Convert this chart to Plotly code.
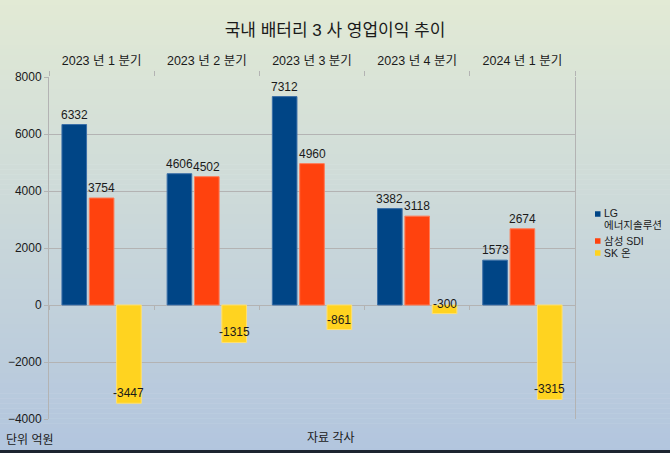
import plotly.graph_objects as go

categories = ["2023 년 1 분기", "2023 년 2 분기", "2023 년 3 분기", "2023 년 4 분기", "2024 년 1 분기"]
series_names = ["LG<br>에너지솔루션", "삼성 SDI", "SK 온"]
lg_values = [6332, 4606, 7312, 3382, 1573]
samsung_values = [3754, 4502, 4960, 3118, 2674]
sk_values = [-3447, -1315, -861, -300, -3315]
y_ticks = [-4000, -2000, 0, 2000, 4000, 6000, 8000]

colors = ["#004586", "#ff420e", "#ffd320"]
edge_colors = ["#3a6fa8", "#ff7a55", "#ffe070"]
series_values = [lg_values, samsung_values, sk_values]

W, H = 670, 453
L, R, T, B = 49, 95, 77, 34
pw, ph = W - L - R, H - T - B

FONT = "Liberation Sans, Arial, Noto Sans CJK KR, sans-serif"


def px_x(x):
    return (x - L) / pw


def px_y(y):
    return (T + ph - y) / ph


fig = go.Figure()
idx = list(range(len(categories)))
for name, vals, c, ec in zip(series_names, series_values, colors, edge_colors):
    fig.add_trace(go.Bar(x=idx, y=vals, name=name.replace("<br>", " "), showlegend=False,
                         marker=dict(color=c, line=dict(color=ec, width=1))))

# dummy traces to keep helper axes alive
fig.add_trace(go.Scatter(x=[], y=[], xaxis="x2", showlegend=False, hoverinfo="skip"))
fig.add_trace(go.Scatter(x=[], y=[], xaxis="x3", showlegend=False, hoverinfo="skip"))

bargap, groupgap = 0.22, 0.1
slot = (1 - bargap) / 3
offsets = [-slot, 0, slot]
annotations = []
for vals, off in zip(series_values, offsets):
    for i, v in enumerate(vals):
        annotations.append(dict(x=i + off, y=v, xref="x", yref="y", text=str(v), showarrow=False,
                                yanchor="bottom", yshift=1, font=dict(size=12, color="#1a1a1a", family=FONT)))

annotations.append(dict(x=px_x(4), y=px_y(440), xref="paper", yref="paper", text="단위 억원",
                        showarrow=False, xanchor="left", yanchor="middle",
                        font=dict(size=12, color="#1a1a1a", family=FONT)))
annotations.append(dict(x=px_x(331), y=px_y(438), xref="paper", yref="paper", text="자료 각사",
                        showarrow=False, xanchor="center", yanchor="middle",
                        font=dict(size=12, color="#1a1a1a", family=FONT)))

# background gradient strips
shapes = []
top = (226, 234, 213)
bot = (178, 197, 222)
n = 91
for k in range(n):
    y0px = H * k / n
    y1px = H * (k + 1) / n + 0.6
    t = (k + 0.5) / n
    col = tuple(round(top[j] + (bot[j] - top[j]) * t) for j in range(3))
    shapes.append(dict(type="rect", xref="paper", yref="paper", layer="below",
                       x0=px_x(0), x1=px_x(W), y0=px_y(y1px), y1=px_y(y0px),
                       fillcolor="rgb(%d,%d,%d)" % col, line=dict(width=0)))
# dark bottom edge
shapes.append(dict(type="rect", xref="paper", yref="paper", layer="above",
                   x0=px_x(0), x1=px_x(W), y0=px_y(H), y1=px_y(H - 3),
                   fillcolor="#1c2430", line=dict(width=0)))

# legend (keys + labels)
legend_rows = [(214, [(213, "LG"), (225, "에너지솔루션")]),
               (241, [(241, "삼성 SDI")]),
               (253, [(253, "SK 온")])]
for (ky, lines), c in zip(legend_rows, colors):
    shapes.append(dict(type="rect", xref="paper", yref="paper", layer="above",
                       x0=px_x(595), x1=px_x(600.5), y0=px_y(ky + 2.75), y1=px_y(ky - 2.75),
                       fillcolor=c, line=dict(width=0)))
for (ky, lines) in legend_rows:
    for ly, txt in lines:
        annotations.append(dict(x=px_x(602), y=px_y(ly), xref="paper", yref="paper", text=txt,
                                showarrow=False, xanchor="left", yanchor="middle",
                                font=dict(size=10.5, color="#1a1a1a", family=FONT)))

grid = "#b3b3b3"
boundaries = [i - 0.5 for i in range(len(categories) + 1)]
xr = [-0.5, len(categories) - 0.5]

fig.update_layout(
    width=W, height=H,
    margin=dict(l=L, r=R, t=T, b=B, autoexpand=False),
    paper_bgcolor="rgba(0,0,0,0)", plot_bgcolor="rgba(0,0,0,0)",
    barmode="group", bargap=bargap, bargroupgap=groupgap,
    showlegend=False,
    title=dict(text="국내 배터리 3 사 영업이익 추이", x=0.5, xanchor="center", y=1 - 30 / H, yanchor="middle",
               font=dict(size=17, color="#1a1a1a", family=FONT)),
    font=dict(family=FONT, size=12, color="#1a1a1a"),
    xaxis=dict(range=xr, side="top", tickvals=idx, ticktext=categories, ticks="", showgrid=False,
               showline=False, zeroline=False, ticklabelstandoff=9, automargin=False,
               tickfont=dict(size=12.5, color="#1a1a1a")),
    xaxis2=dict(range=xr, overlaying="x", side="top", anchor="y", tickvals=boundaries, ticks="outside",
                ticklen=5, tickcolor=grid, showticklabels=False, showgrid=False, zeroline=False,
                showline=False, automargin=False),
    xaxis3=dict(range=xr, overlaying="x", side="bottom", anchor="free", position=1 / 3, tickvals=boundaries,
                ticks="outside", ticklen=4, tickcolor=grid, showticklabels=False, showgrid=False,
                zeroline=False, showline=False, automargin=False),
    yaxis=dict(range=[-4000, 8000], tickvals=y_ticks, ticks="outside", ticklen=4, tickcolor=grid,
               showgrid=True, gridcolor=grid, gridwidth=1, zeroline=True, zerolinecolor=grid, zerolinewidth=1,
               showline=True, linecolor=grid, linewidth=1, mirror=True, automargin=False,
               tickfont=dict(size=12, color="#1a1a1a")),
    annotations=annotations,
    shapes=shapes,
)

fig.write_html("out.html", config={"displayModeBar": False},
               post_script="document.body.style.margin='0px';")
